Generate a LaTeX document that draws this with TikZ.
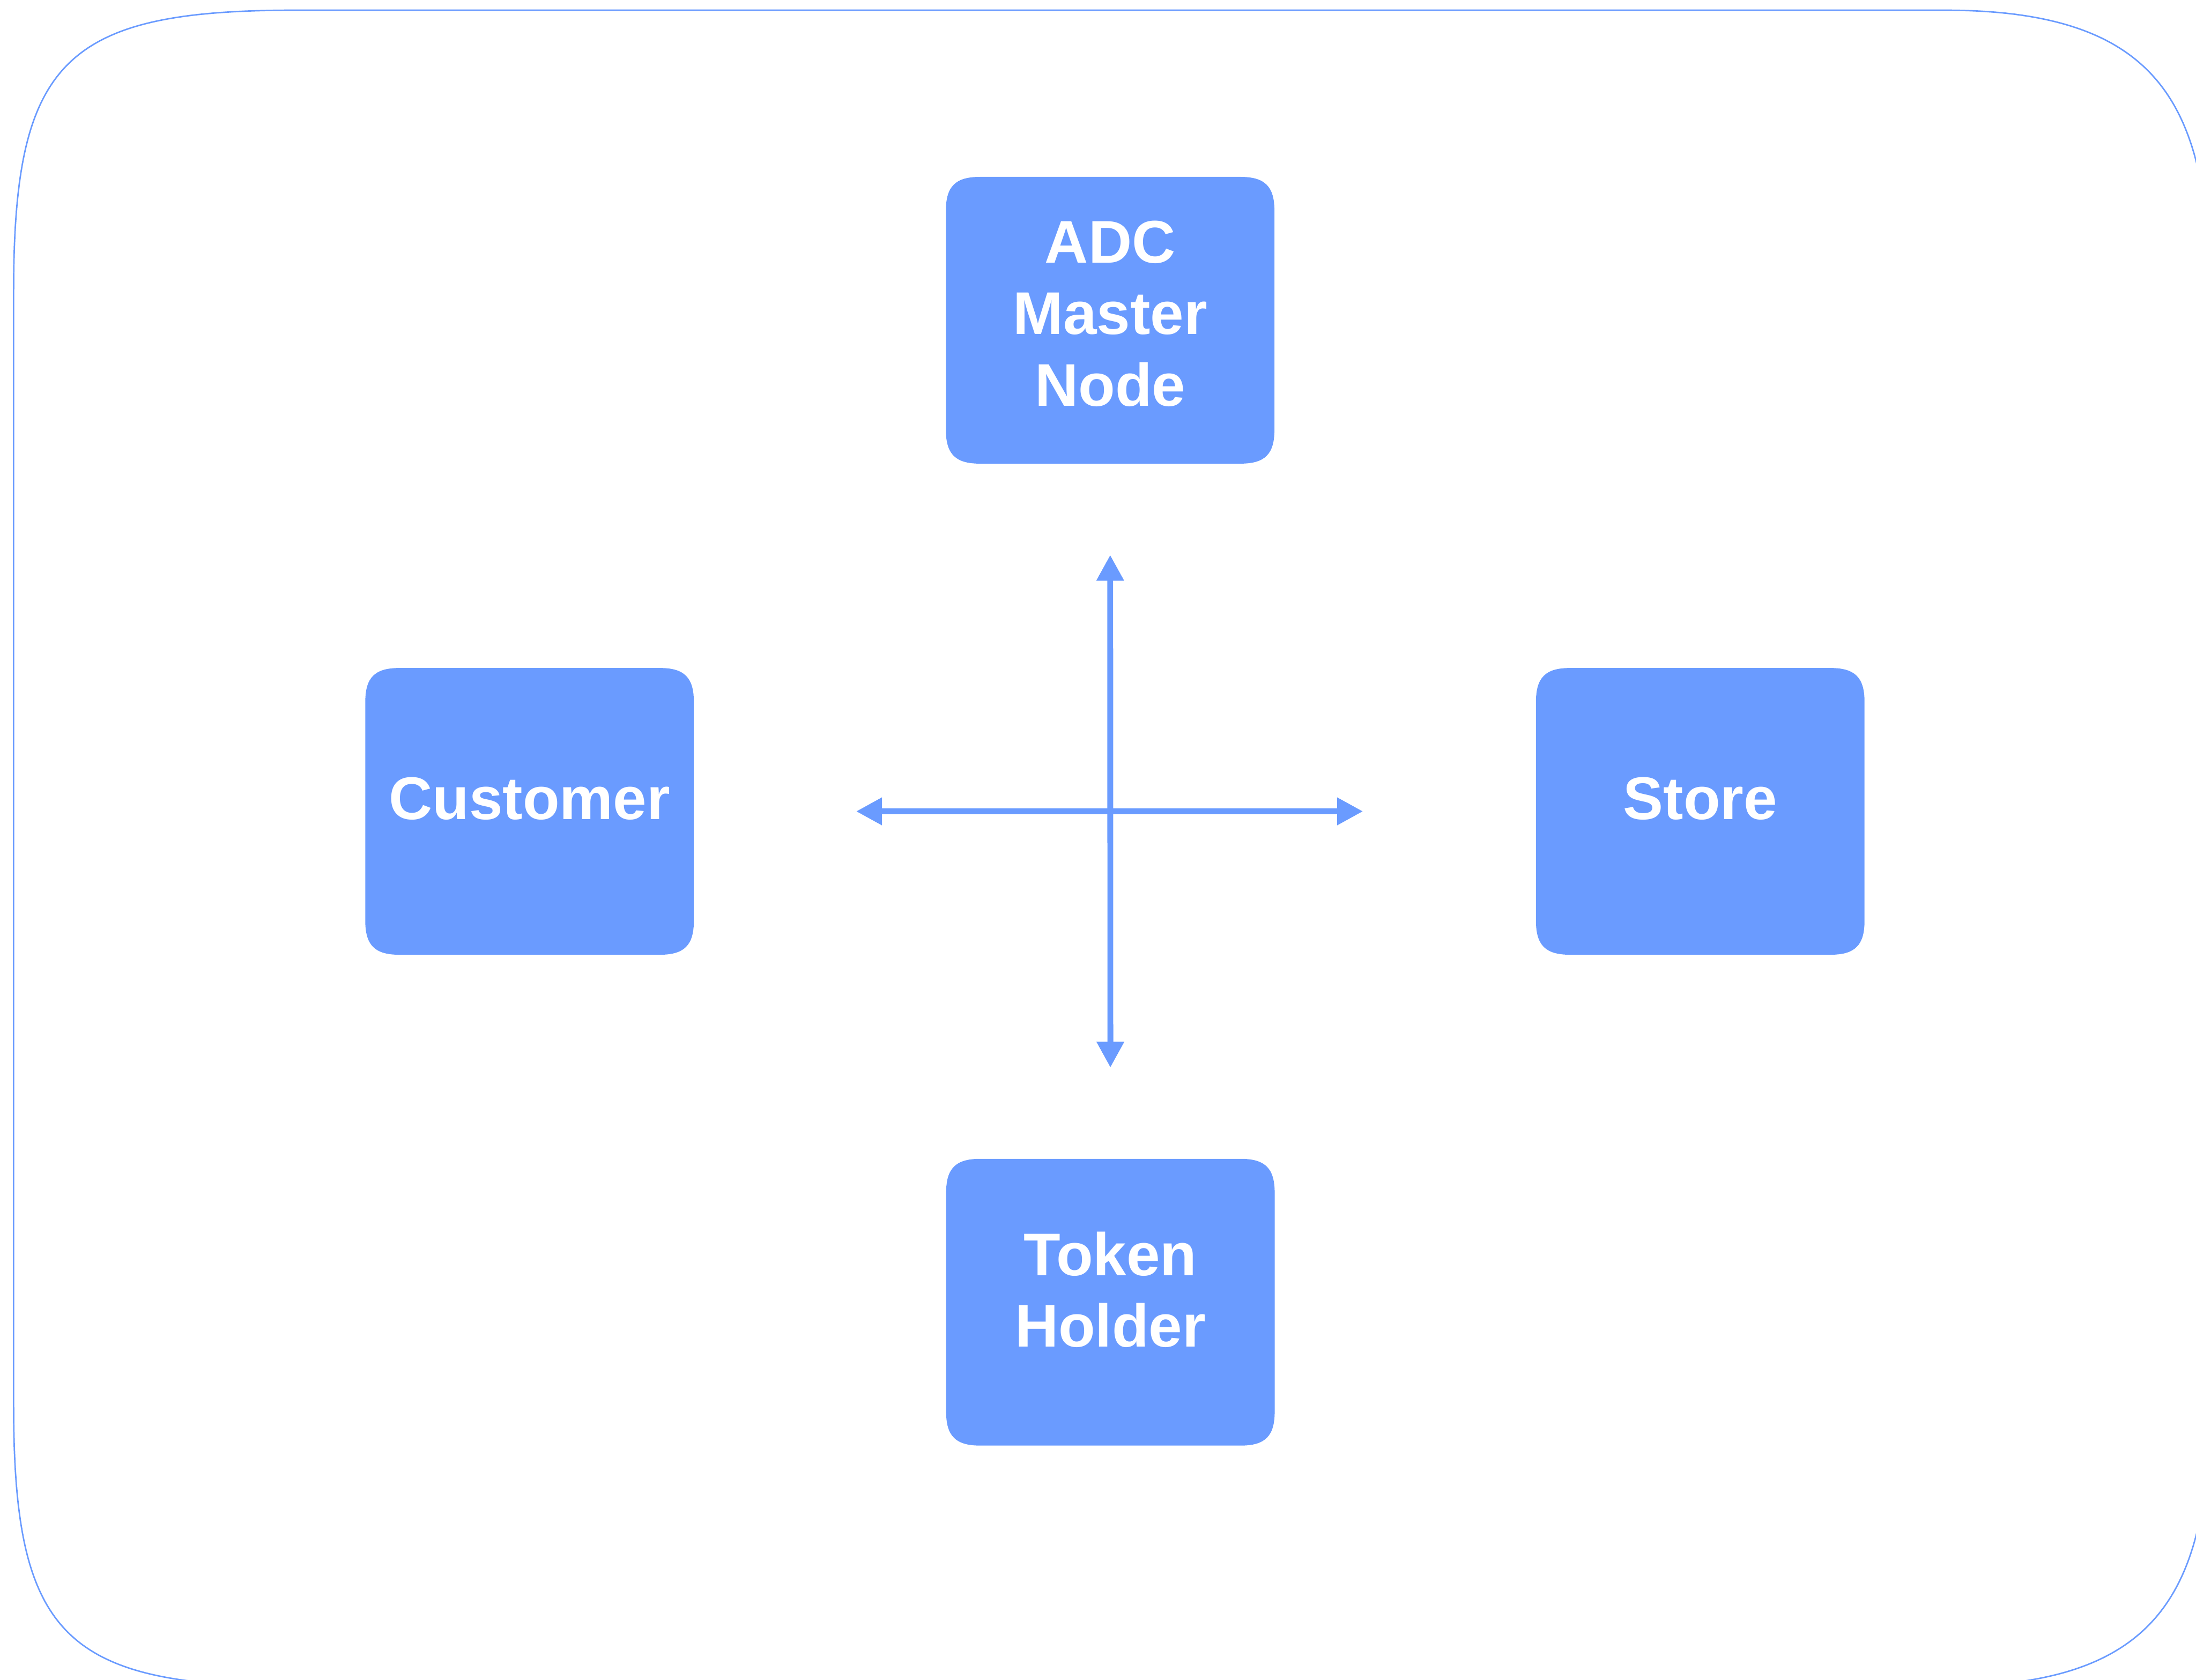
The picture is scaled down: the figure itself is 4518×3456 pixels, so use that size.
\documentclass[tikz,border=0pt]{standalone}
\usepackage{fontspec}
\setmainfont{Liberation Sans}
\usetikzlibrary{arrows.meta,calc,backgrounds}

\definecolor{cardblue}{RGB}{106,155,255}

% rounded card with soft (squircle-like) corners, drawn behind a node
\newcommand\cardrad{17.5pt}
\newcommand\cardctl{4.9pt}
\newcommand\cardshape[1]{%
  \fill[cardblue] let \p1=(#1.south west), \p2=(#1.north east) in
    (\x1+\cardrad,\y1) -- (\x2-\cardrad,\y1)
    .. controls (\x2-\cardctl,\y1) and (\x2,\y1+\cardctl) .. (\x2,\y1+\cardrad)
    -- (\x2,\y2-\cardrad)
    .. controls (\x2,\y2-\cardctl) and (\x2-\cardctl,\y2) .. (\x2-\cardrad,\y2)
    -- (\x1+\cardrad,\y2)
    .. controls (\x1+\cardctl,\y2) and (\x1,\y2-\cardctl) .. (\x1,\y2-\cardrad)
    -- (\x1,\y1+\cardrad)
    .. controls (\x1,\y1+\cardctl) and (\x1+\cardctl,\y1) .. cycle;
}

\tikzset{
  card/.style={minimum width=169pt, minimum height=147.5pt,
    inner sep=0pt, outer sep=0pt},
  cardtext/.style={text=white, align=center, inner sep=0pt,
    font=\fontsize{31pt}{36.75pt}\selectfont\bfseries},
  frame/.style={draw=cardblue, line width=0.75pt},
  link/.style={draw=cardblue, line width=3pt,
    arrows={Triangle[length=13.25pt,width=13.5pt]-Triangle[length=13.25pt,width=13.5pt]}}
}

\begin{document}
\begin{tikzpicture}[x=0.25pt, y=-0.25pt]
  \useasboundingbox (0,0) rectangle (4518,3456);

  % outer frame
  \draw[frame] (4000,21) -- (608,21)
    .. controls (132,21) and (28,125) .. (28,601)
    -- (28,2890)
    .. controls (28,3366) and (132,3470) .. (608,3470)
    -- (4000,3470)
    .. controls (4460,3470) and (4548,3261) .. (4548,2851)
    -- (4548,640)
    .. controls (4548,230) and (4460,21) .. (4000,21) -- cycle;

  % cards
  \node[card] (adc)   at (2284,659)     {};
  \node[card] (cust)  at (1089.5,1669.5) {};
  \node[card] (store) at (3498,1669.5)  {};
  \node[card] (token) at (2284.5,2679.5) {};

  \begin{scope}[on background layer]
    \cardshape{adc}
    \cardshape{cust}
    \cardshape{store}
    \cardshape{token}
  \end{scope}

  % labels
  \node[cardtext] (adc-label)   at ([yshift=3.4pt]adc.center)   {ADC\\Master\\Node};
  \node[cardtext] (cust-label)  at ([yshift=6.6pt]cust.center)  {Customer};
  \node[cardtext] (store-label) at ([yshift=6.6pt]store.center) {Store};
  \node[cardtext] (token-label) at ([yshift=6.4pt]token.center) {Token\\Holder};

  % double-headed connectors between the cards
  \draw[link, shorten <=83.5pt, shorten >=89pt] (cust.east) -- (store.west);
  \draw[link, shorten <=47pt, shorten >=47pt] (adc.south) -- (token.north);
\end{tikzpicture}
\end{document}
